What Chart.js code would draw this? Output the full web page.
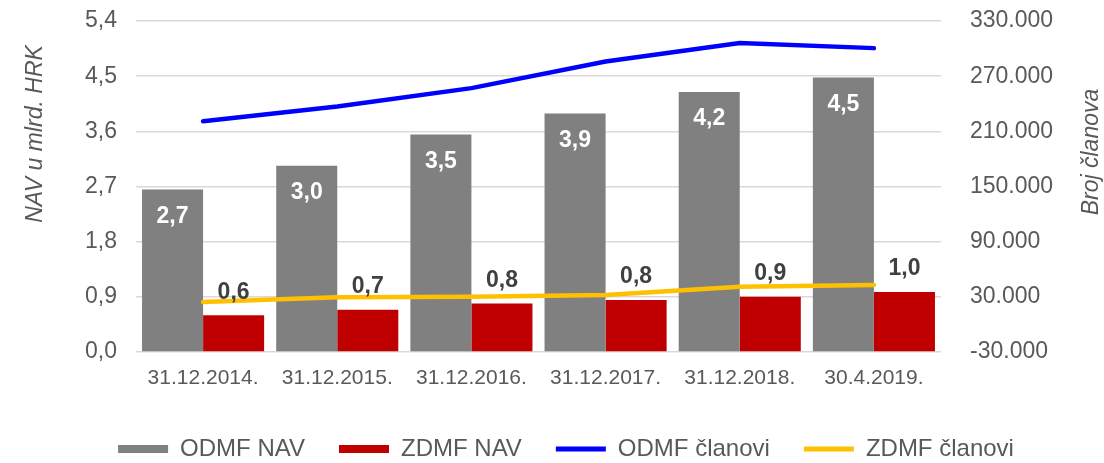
<!DOCTYPE html>
<html>
<head>
<meta charset="utf-8">
<script src="https://cdn.jsdelivr.net/npm/chart.js@4.4.1/dist/chart.umd.min.js"></script>
<style>
    html, body { margin: 0; padding: 0; background: #ffffff; }
    #wrap { width: 1104px; height: 463px; position: relative; }
</style>
</head>
<body>
<div id="wrap"><canvas id="nav-chart"></canvas></div>
<script>
// Chart data
const categories = ['31.12.2014.', '31.12.2015.', '31.12.2016.', '31.12.2017.', '31.12.2018.', '30.4.2019.'];
const odmfNav = [2.65, 3.04, 3.55, 3.89, 4.24, 4.48];
const zdmfNav = [0.60, 0.69, 0.79, 0.85, 0.90, 0.98];
const odmfClanovi = [221000, 237000, 257000, 286000, 306000, 300500];
const zdmfClanovi = [24500, 29500, 30000, 32000, 41000, 43000];
const odmfNavLabels = ['2,7', '3,0', '3,5', '3,9', '4,2', '4,5'];
const zdmfNavLabels = ['0,6', '0,7', '0,8', '0,8', '0,9', '1,0'];

const textColor = '#595959';
const fontFamily = '"Liberation Sans", Arial, sans-serif';

// Draws the value labels on the bars
const barLabelsPlugin = {
    id: 'barLabels',
    afterDatasetsDraw(chart) {
        const ctx = chart.ctx;
        ctx.save();
        ctx.font = 'bold 23px ' + fontFamily;
        ctx.textAlign = 'center';
        ctx.textBaseline = 'middle';
        chart.getDatasetMeta(0).data.forEach((bar, i) => {
            ctx.fillStyle = '#ffffff';
            ctx.fillText(odmfNavLabels[i], bar.x, bar.y + 27);
        });
        chart.getDatasetMeta(1).data.forEach((bar, i) => {
            ctx.fillStyle = '#404040';
            ctx.fillText(zdmfNavLabels[i], bar.x, bar.y - 23);
        });
        ctx.restore();
    }
};

// Axis titles placed where the original has them
const axisTitlesPlugin = {
    id: 'axisTitles',
    afterDraw(chart) {
        const ctx = chart.ctx;
        ctx.save();
        ctx.font = 'italic 23px ' + fontFamily;
        ctx.fillStyle = textColor;
        ctx.textAlign = 'center';
        ctx.textBaseline = 'middle';
        ctx.translate(36, 134);
        ctx.rotate(-Math.PI / 2);
        ctx.fillText('NAV u mlrd. HRK', 0, 0);
        ctx.restore();

        ctx.save();
        ctx.font = 'italic 23px ' + fontFamily;
        ctx.fillStyle = textColor;
        ctx.textAlign = 'center';
        ctx.textBaseline = 'middle';
        ctx.translate(1092, 152);
        ctx.rotate(-Math.PI / 2);
        ctx.fillText('Broj članova', 0, 0);
        ctx.restore();
    }
};

// The original legend sits a bit right of centre
const legendShiftPlugin = {
    id: 'legendShift',
    afterLayout(chart) {
        if (chart.legend) {
            chart.legend.left += 14;
            chart.legend.right += 14;
        }
    }
};

function formatThousands(value) {
    const sign = value < 0 ? '-' : '';
    const s = String(Math.abs(Math.round(value)));
    return sign + s.replace(/\B(?=(\d{3})+(?!\d))/g, '.');
}

// keep the tick padding from pushing the plot area down
function fitVertical(width) {
    return function(scale) {
        scale.width = width;
        scale.paddingTop = 0;
        scale.paddingBottom = 0;
    };
}

const ctx = document.getElementById('nav-chart');
new Chart(ctx, {
    type: 'bar',
    data: {
        labels: categories,
        datasets: [
            {
                label: 'ODMF NAV',
                data: odmfNav,
                backgroundColor: '#808080',
                yAxisID: 'y',
                order: 2,
                categoryPercentage: 0.91,
                barPercentage: 1.0
            },
            {
                label: 'ZDMF NAV',
                data: zdmfNav,
                backgroundColor: '#c00000',
                yAxisID: 'y',
                order: 2,
                categoryPercentage: 0.91,
                barPercentage: 1.0
            },
            {
                type: 'line',
                label: 'ODMF članovi',
                data: odmfClanovi,
                borderColor: '#0000ff',
                backgroundColor: '#0000ff',
                borderWidth: 4.5,
                pointRadius: 0,
                tension: 0,
                borderCapStyle: 'round',
                yAxisID: 'y1',
                order: 1
            },
            {
                type: 'line',
                label: 'ZDMF članovi',
                data: zdmfClanovi,
                borderColor: '#ffc000',
                backgroundColor: '#ffc000',
                borderWidth: 4.5,
                pointRadius: 0,
                tension: 0,
                borderCapStyle: 'round',
                yAxisID: 'y1',
                order: 1
            }
        ]
    },
    options: {
        responsive: true,
        maintainAspectRatio: false,
        animation: false,
        layout: {
            padding: { top: 21, left: 0, right: 0, bottom: -8 }
        },
        plugins: {
            tooltip: { enabled: false },
            legend: {
                display: true,
                position: 'bottom',
                labels: {
                    color: textColor,
                    font: { family: fontFamily, size: 24 },
                    usePointStyle: true,
                    pointStyleWidth: 50,
                    boxWidth: 50,
                    boxHeight: 8,
                    padding: 34,
                    generateLabels(chart) {
                        return chart.data.datasets.map((ds, i) => ({
                            text: ds.label,
                            fillStyle: ds.backgroundColor,
                            strokeStyle: ds.type === 'line' ? ds.borderColor : ds.backgroundColor,
                            lineWidth: ds.type === 'line' ? 5 : 0,
                            pointStyle: ds.type === 'line' ? 'line' : 'rect',
                            fontColor: textColor,
                            hidden: false,
                            datasetIndex: i
                        }));
                    }
                }
            }
        },
        scales: {
            x: {
                grid: { display: false },
                border: { display: false },
                ticks: {
                    color: textColor,
                    font: { family: fontFamily, size: 21 },
                    padding: 6
                },
                afterFit(scale) { scale.height = 51; }
            },
            y: {
                position: 'left',
                min: 0,
                max: 5.4,
                grid: {
                    color: '#d9d9d9',
                    lineWidth: 1.5,
                    tickLength: 0
                },
                border: { display: false },
                ticks: {
                    stepSize: 0.9,
                    color: textColor,
                    font: { family: fontFamily, size: 23 },
                    padding: 19,
                    callback: function(value) {
                        return value.toFixed(1).replace('.', ',');
                    }
                },
                afterFit: fitVertical(136)
            },
            y1: {
                position: 'right',
                min: -30000,
                max: 330000,
                grid: { display: false },
                border: { display: false },
                ticks: {
                    stepSize: 60000,
                    color: textColor,
                    font: { family: fontFamily, size: 23 },
                    padding: 21,
                    callback: function(value) {
                        return formatThousands(value);
                    }
                },
                afterFit: fitVertical(163)
            }
        }
    },
    plugins: [barLabelsPlugin, axisTitlesPlugin, legendShiftPlugin]
});
</script>
</body>
</html>
